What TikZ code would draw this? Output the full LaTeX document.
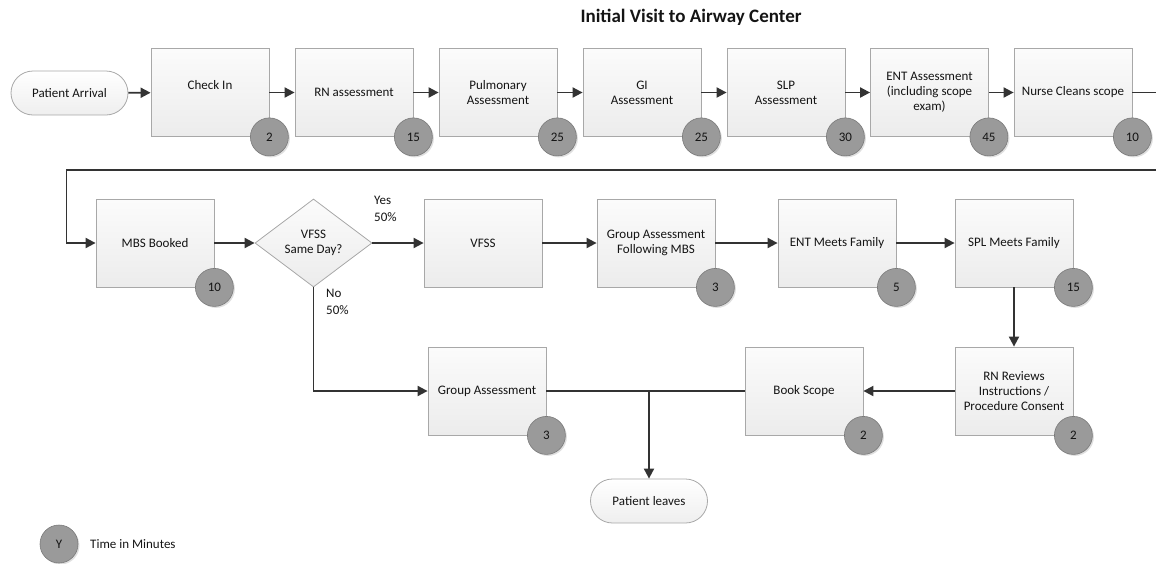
\documentclass[tikz,border=0pt]{standalone}
\usepackage{fontspec}
\setmainfont{Carlito}
\usetikzlibrary{arrows.meta,shapes.geometric,shadows}
\definecolor{linegray}{HTML}{333333}
\definecolor{boxedge}{HTML}{A8A8A8}
\definecolor{badgefill}{HTML}{9A9A9A}
\definecolor{badgeedge}{HTML}{7A7A7A}
\begin{document}
\begin{tikzpicture}[x=1pt,y=-1pt,
  every node/.style={font=\fontsize{13}{15}\selectfont, text=black!92},
  procbox/.style={draw=boxedge, line width=0.8pt, top color=gray!3, bottom color=gray!15,
    minimum width=118pt, minimum height=88pt, align=center, inner sep=2pt},
  termbox/.style={draw=boxedge, line width=0.8pt, top color=white, bottom color=gray!13,
    rounded corners=22pt, minimum width=117pt, minimum height=44pt, align=center},
  decision/.style={diamond, draw=boxedge, line width=0.8pt, top color=gray!3, bottom color=gray!15,
    minimum width=117pt, minimum height=88pt, inner sep=0pt, align=center},
  timebadge/.style={circle, draw=badgeedge, line width=0.6pt, fill=badgefill, minimum size=38pt,
    inner sep=0pt, drop shadow={opacity=0.25, shadow xshift=1.5pt, shadow yshift=-1.5pt}},
  flow/.style={draw=linegray, line width=1.9pt, -{Triangle[length=10pt,width=10pt]}},
  plainline/.style={draw=linegray, line width=1.9pt},
  branchlabel/.style={align=left, anchor=north west, inner sep=0pt, font=\fontsize{13}{17}\selectfont}]
\useasboundingbox (0,0) rectangle (1156,563);

\node[font=\bfseries\fontsize{19}{22}\selectfont] (title) at (691,17) {Initial Visit to Airway Center};

% Row 1
\node[termbox] (arrival) at (69.5,93) {Patient Arrival};
\node[procbox] (checkin) at (210,92.5) {Check In\\\mbox{}};
\node[procbox] (rn) at (354,92.5) {RN assessment};
\node[procbox] (pulm) at (498,92.5) {Pulmonary\\Assessment};
\node[procbox] (gi) at (642,92.5) {GI\\Assessment};
\node[procbox] (slp) at (786,92.5) {SLP\\Assessment};
\node[procbox] (ent) at (929.5,92.5) {ENT Assessment\\(including scope\\exam)};
\node[procbox] (nurse) at (1073,92.5) {Nurse Cleans scope};

% Row 2
\node[procbox] (mbs) at (155,243) {MBS Booked};
\node[decision] (vfssq) at (313.5,243) {VFSS\\Same Day?};
\node[procbox] (vfss) at (483,243) {VFSS};
\node[procbox] (gaf) at (656,243) {Group Assessment\\Following MBS};
\node[procbox] (entf) at (837,243) {ENT Meets Family};
\node[procbox] (splf) at (1014,243) {SPL Meets Family};

% Row 3
\node[procbox] (rnr) at (1014,391) {RN Reviews\\Instructions /\\Procedure Consent};
\node[procbox] (book) at (804,391) {Book Scope};
\node[procbox] (ga) at (487,391) {Group Assessment};
\node[termbox] (leaves) at (649,501) {Patient leaves};

% Branch labels
\node[branchlabel] (yes) at (374,196) {Yes\\50\%};
\node[branchlabel] (no) at (326,289) {No\\50\%};

% Connectors
\draw[flow] (arrival) -- (checkin);
\draw[flow] (checkin) -- (rn);
\draw[flow] (rn) -- (pulm);
\draw[flow] (pulm) -- (gi);
\draw[flow] (gi) -- (slp);
\draw[flow] (slp) -- (ent);
\draw[flow] (ent) -- (nurse);
\coordinate (wrapA) at (1160,92.5);
\coordinate (wrapB) at (1160,170);
\coordinate (wrapC) at (66.5,170);
\draw[flow] (nurse.east) -- (wrapA) -- (wrapB) -- (wrapC) |- (mbs.west);
\draw[flow] (mbs) -- (vfssq);
\draw[flow] (vfssq) -- (vfss);
\draw[flow] (vfss) -- (gaf);
\draw[flow] (gaf) -- (entf);
\draw[flow] (entf) -- (splf);
\draw[flow] (splf.south) -- (rnr.north);
\draw[flow] (rnr) -- (book);
\draw[flow] (vfssq.south) |- (ga.west);
\draw[plainline] (ga.east) -- (book.west);
\coordinate (junction) at (leaves.north |- ga.east);
\draw[flow] (junction) -- (leaves.north);

% Time badges
\foreach \b/\t in {checkin/2, rn/15, pulm/25, gi/25, slp/30, ent/45, nurse/10,
                    mbs/10, gaf/3, entf/5, splf/15, rnr/2, book/2, ga/3}{
  \node[timebadge] (t\b) at (\b.south east) {\t};
}

% Legend
\node[timebadge] (legendbadge) at (59,544) {Y};
\node[anchor=west, inner sep=0pt] (legendtext) at (90,544) {Time in Minutes};
\end{tikzpicture}
\end{document}
